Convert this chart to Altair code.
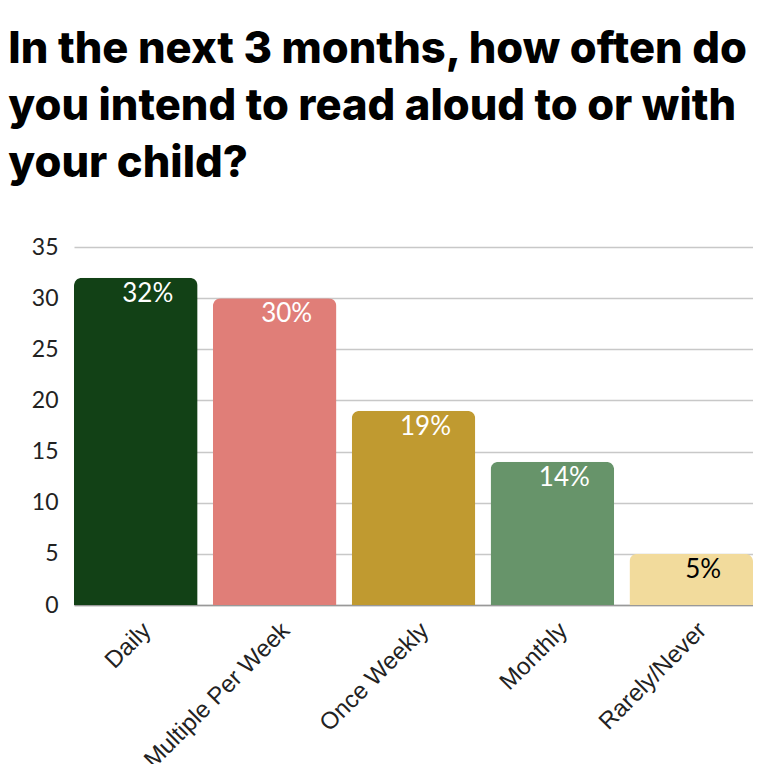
import altair as alt
import pandas as pd

categories = ["Daily", "Multiple Per Week", "Once Weekly", "Monthly", "Rarely/Never"]
values = [32, 30, 19, 14, 5]
labels = ["32%", "30%", "19%", "14%", "5%"]
bar_colors = ["#124116", "#E07E78", "#C09A30", "#67946A", "#F2DB9C"]
label_colors = ["white", "white", "white", "white", "black"]

df = pd.DataFrame({
    "cat": categories,
    "val": values,
    "label": labels,
    "lcol": label_colors,
})

x = alt.X("cat:N", sort=categories, title=None,
          scale=alt.Scale(paddingInner=0.11, paddingOuter=0.0),
          axis=alt.Axis(labelAngle=-45, labelFontSize=24, labelFont="Liberation Sans",
                        labelColor="#222", ticks=False, domainColor="#999",
                        domainWidth=1.5, labelPadding=13, labelOffset=3,
                        labelLimit=400))
y = alt.Y("val:Q", title=None,
          scale=alt.Scale(domain=[0, 35]),
          axis=alt.Axis(values=[0, 5, 10, 15, 20, 25, 30, 35], labelFontSize=23,
                        labelFont="Lato", labelColor="#222", ticks=False, domain=False,
                        gridColor="#c8c8c8", gridWidth=1.5, labelPadding=16))

bars = alt.Chart(df).mark_bar(cornerRadiusTopLeft=8, cornerRadiusTopRight=8).encode(
    x=x, y=y,
    color=alt.Color("cat:N", sort=categories,
                    scale=alt.Scale(domain=categories, range=bar_colors), legend=None),
)

text = alt.Chart(df).mark_text(baseline="top", dy=3, dx=12, fontSize=26,
                               font="Lato").encode(
    x=alt.X("cat:N", sort=categories),
    y="val:Q",
    text="label:N",
    color=alt.Color("lcol:N", scale=None),
)

chart = (bars + text).properties(
    width=679, height=358,
    title=alt.Title(
        ["In the next 3 months, how often do", "you intend to read aloud to or with", "your child?"],
        anchor="start", fontSize=43.5, font="Inter", fontWeight=800,
        color="#000", lineHeight=57, offset=50, dx=-23,
    ),
    padding={"left": 0, "top": 19, "right": 0, "bottom": 0},
).configure_view(stroke=None)

chart.save("out.html", embed_options={"renderer": "svg", "actions": False})
